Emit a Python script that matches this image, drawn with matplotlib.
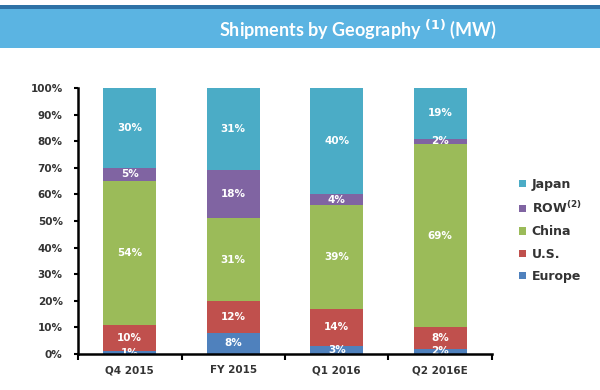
import matplotlib
matplotlib.use("Agg")
import matplotlib.pyplot as plt
from matplotlib.patches import Rectangle, Patch
import numpy as np

plt.rcParams['mathtext.fontset'] = 'dejavusans'

categories = ["Q4 2015", "FY 2015", "Q1 2016", "Q2 2016E"]
series_names = ["Europe", "U.S.", "China", r"ROW$^{\mathbf{(2)}}$", "Japan"]
europe = [1, 8, 3, 2]
us = [10, 12, 14, 8]
china = [54, 31, 39, 69]
row = [5, 18, 4, 2]
japan = [30, 31, 40, 19]
colors = ["#4F81BD", "#C0504D", "#9BBB59", "#8064A2", "#4BACC6"]
yticks = [0, 10, 20, 30, 40, 50, 60, 70, 80, 90, 100]

series = [europe, us, china, row, japan]

fig = plt.figure(figsize=(6, 3.9), dpi=100)

# banner
fig.patches.append(Rectangle((0, (390 - 48) / 390), 1, 43 / 390, transform=fig.transFigure,
                             facecolor="#5BB4E2", edgecolor="none", zorder=0))
fig.patches.append(Rectangle((0, (390 - 8.5) / 390), 1, 3.5 / 390, transform=fig.transFigure,
                             facecolor="#2E72A6", edgecolor="none", zorder=1))
fig.text(358 / 600, (390 - 29) / 390, r"Shipments by Geography $^{\mathbf{(1)}}$ (MW)", color="white",
         fontsize=13, fontweight="bold", family="Lato", ha="center", va="center")

ax = fig.add_axes([78/600, 36/390, 414/600, 266/390])
x = np.arange(len(categories))
bottom = np.zeros(len(categories))
handles = []
for vals, c, name in zip(series, colors, series_names):
    vals = np.array(vals, dtype=float)
    ax.bar(x, vals, width=0.51, bottom=bottom, color=c, zorder=2)
    for xi, b, v in zip(x, bottom, vals):
        ax.text(xi, b + v / 2, f"{int(v)}%", ha="center", va="center", color="white",
                fontsize=7.5, fontweight="bold", zorder=3)
    bottom += vals
    handles.append(Patch(facecolor=c, label=name))

ax.set_xlim(-0.5, len(categories) - 0.5)
ax.set_ylim(0, 100)
ax.set_yticks(yticks)
ax.set_yticklabels([f"{t}%" for t in yticks])
ax.set_xticks(x)
ax.set_xticklabels(categories)
ax.tick_params(axis="x", length=0, pad=8)
ax.set_xticks(np.arange(-0.5, len(categories) + 0.5, 1), minor=True)
ax.tick_params(axis="x", which="minor", length=4, width=1.5, direction="out")
ax.tick_params(axis="y", length=3, width=1.5, direction="out", pad=8)
for lab in ax.get_xticklabels() + ax.get_yticklabels():
    lab.set_fontweight("bold")
    lab.set_fontsize(7.5)
    lab.set_color("#333333")
for s in ["top", "right"]:
    ax.spines[s].set_visible(False)
for s in ["left", "bottom"]:
    ax.spines[s].set_linewidth(1.8)
    ax.spines[s].set_zorder(10)

leg = fig.legend(handles=handles[::-1], loc="center left", bbox_to_anchor=(508/600, 0.409),
                 frameon=False, handlelength=0.5, handleheight=0.5, handletextpad=0.5,
                 labelspacing=0.75, prop={"weight": "bold", "size": 9})
for t in leg.get_texts():
    t.set_color("#333333")

fig.savefig("out.png", dpi=100)
